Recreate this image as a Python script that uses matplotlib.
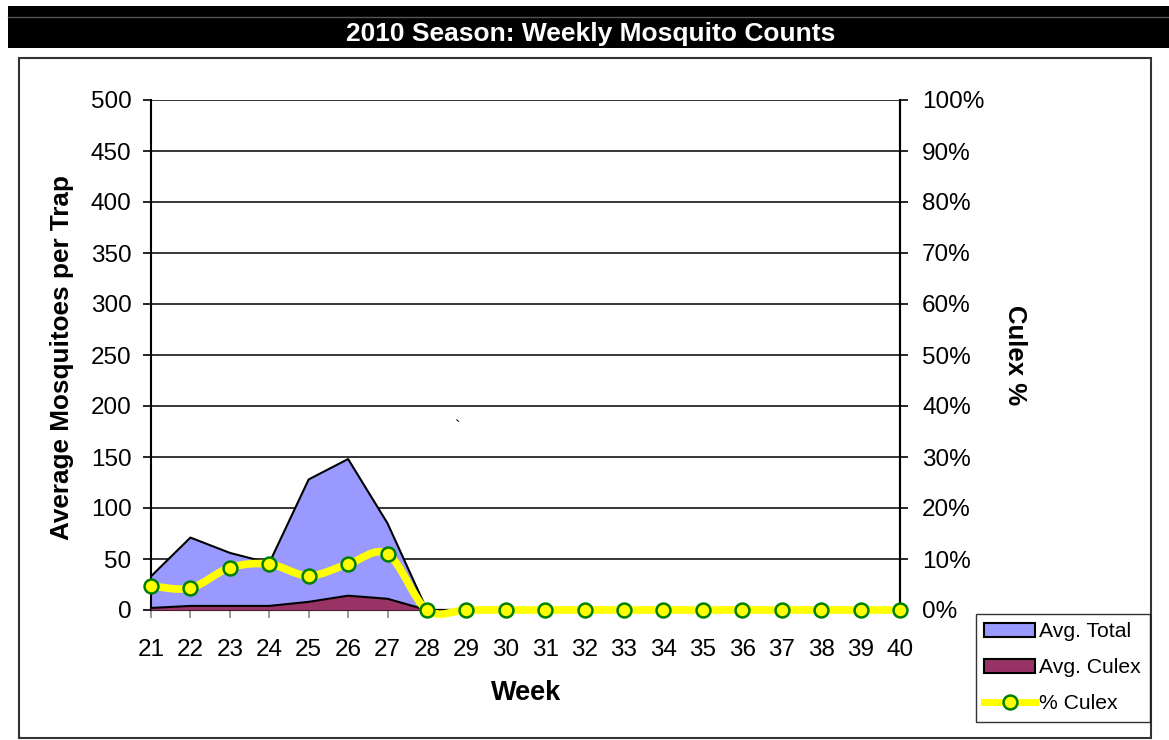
import numpy as np
import matplotlib.pyplot as plt
from matplotlib.path import Path
from matplotlib.patches import PathPatch, Rectangle, Patch
from matplotlib.lines import Line2D
from matplotlib.ticker import FuncFormatter

plt.rcParams['font.family'] = ['Liberation Sans', 'DejaVu Sans']

# data
weeks = list(range(21, 41))
avg_total = [33, 71, 56, 46, 128, 148, 85, 0, 0, 0, 0, 0, 0, 0, 0, 0, 0, 0, 0, 0]
avg_culex = [2, 4, 4, 4, 8, 14, 11, 0, 0, 0, 0, 0, 0, 0, 0, 0, 0, 0, 0, 0]
pct_culex = [0.047, 0.043, 0.083, 0.090, 0.067, 0.090, 0.110, 0, 0, 0,
             0, 0, 0, 0, 0, 0, 0, 0, 0, 0]

W, H = 1169, 740


def smooth_path(x, y):
    """Excel style smoothed line: cubic bezier through every point"""
    x = np.asarray(x, float)
    y = np.asarray(y, float)
    n = len(x)
    verts = [(x[0], y[0])]
    codes = [Path.MOVETO]
    for i in range(n - 1):
        p0 = np.array([x[max(i - 1, 0)], y[max(i - 1, 0)]])
        p1 = np.array([x[i], y[i]])
        p2 = np.array([x[i + 1], y[i + 1]])
        p3 = np.array([x[min(i + 2, n - 1)], y[min(i + 2, n - 1)]])
        c1 = p1 + (p2 - p0) / 6
        c2 = p2 - (p3 - p1) / 6
        verts += [tuple(c1), tuple(c2), tuple(p2)]
        codes += [Path.CURVE4] * 3
    return Path(verts, codes)


fig = plt.figure(figsize=(W / 100, H / 100), dpi=100)

# title bar and chart frame
fig.patches.append(Rectangle((8 / W, 1 - 48 / H), 1 - 8 / W, 42 / H,
                             transform=fig.transFigure, fc='black', ec='none', zorder=-5))
fig.lines.append(Line2D([8 / W, 1], [1 - 17 / H, 1 - 17 / H], transform=fig.transFigure,
                        color='#555555', lw=1, zorder=-4))
fig.text(591 / W, 1 - 34 / H, '2010 Season: Weekly Mosquito Counts', color='white',
         fontsize=19, fontweight='bold', ha='center', va='center')
fig.patches.append(Rectangle((19 / W, 1 - 738 / H), 1132 / W, 680 / H,
                             transform=fig.transFigure, fc='white', ec='#333333', lw=1.5,
                             zorder=-5))

ax = fig.add_axes([151 / W, 1 - 610 / H, 749 / W, 510 / H])
ax.set_facecolor('none')
ax.set_axisbelow(True)
ax.grid(axis='y', color='black', lw=1.1)

ax.fill_between(weeks, avg_total, color='#9999FF', lw=0, zorder=2)
ax.plot(weeks, avg_total, color='black', lw=1.5, zorder=3)
ax.fill_between(weeks, avg_culex, color='#993366', lw=0, zorder=4)
ax.plot(weeks, avg_culex, color='black', lw=1.5, zorder=5)

ax.set_xlim(21, 40)
ax.set_ylim(0, 500)
ax.set_yticks(range(0, 501, 50))
ax.set_xticks(weeks)
ax.tick_params(axis='y', labelsize=17.5, length=6, width=1.2, pad=8, direction='out')
ax.tick_params(axis='x', labelsize=17.5, length=6, width=1.2, pad=15, direction='out',
               color='#888888')
for s in ax.spines.values():
    s.set_color('black')
    s.set_linewidth(1.5)
ax.spines['top'].set_visible(False)

ax2 = ax.twinx()
ax2.set_ylim(0, 1)
ax2.set_yticks(np.arange(0, 1.01, 0.1))
ax2.yaxis.set_major_formatter(FuncFormatter(lambda v, p: f'{v * 100:.0f}%'))
ax2.tick_params(axis='y', labelsize=17.5, length=6, width=1.2, pad=10, direction='out')
for s in ax2.spines.values():
    s.set_visible(False)
ax2.spines['right'].set_visible(True)
ax2.spines['right'].set_linewidth(1.5)

curve = PathPatch(smooth_path(weeks, pct_culex), fc='none', ec='yellow', lw=5.5,
                  capstyle='round', joinstyle='round', clip_on=False, zorder=6)
ax2.add_patch(curve)
ax2.plot(weeks, pct_culex, ls='none', marker='o', ms=10, mfc='yellow', mec='green',
         mew=1.8, clip_on=False, zorder=7)

# axis titles
fig.text(62 / W, 1 - 357 / H, 'Average Mosquitoes per Trap', rotation=90, fontsize=18.8,
         fontweight='bold', ha='center', va='center')
fig.text(1015 / W, 1 - 355 / H, 'Culex %', rotation=270, fontsize=18.5,
         fontweight='bold', ha='center', va='center')
fig.text(526 / W, 1 - 693 / H, 'Week', fontsize=19.5, fontweight='bold',
         ha='center', va='center')
fig.text(457 / W, 1 - 428 / H, '`', fontsize=12, ha='center', va='center')

handles = [Patch(fc='#9999FF', ec='black', lw=1.5),
           Patch(fc='#993366', ec='black', lw=1.5),
           Line2D([], [], color='yellow', lw=5, marker='o', ms=10, mfc='yellow',
                  mec='green', mew=1.8)]
labels = ['Avg. Total', 'Avg. Culex', '% Culex']
leg = fig.legend(handles, labels, loc='upper left', bbox_to_anchor=(976 / W, 1 - 614 / H),
                 borderaxespad=0, fontsize=15.2, handlelength=2.4, handletextpad=0.2,
                 labelspacing=0.8, borderpad=0.4, fancybox=False, frameon=True)
leg.get_frame().set_edgecolor('black')
leg.get_frame().set_linewidth(1)

fig.savefig('out.png', dpi=100)
